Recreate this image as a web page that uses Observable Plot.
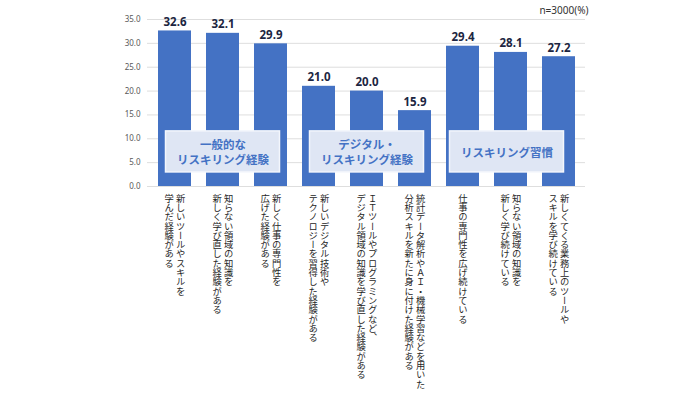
<!DOCTYPE html>
<html><head><meta charset="utf-8">
<script src="https://cdn.jsdelivr.net/npm/d3@7"></script>
<script src="https://cdn.jsdelivr.net/npm/@observablehq/plot@0.6"></script>
<style>body{margin:0;background:#fff;} svg{display:block;}</style>
</head><body><div id="chart"></div>
<script>
const labelLines = [
  ["新しいツールやスキルを", "学んだ経験がある"],
  ["知らない領域の知識を", "新しく学び直した経験がある"],
  ["新しく仕事の専門性を", "広げた経験がある"],
  ["新しいデジタル技術や", "テクノロジーを習得した経験がある"],
  ["ＩＴツールやプログラミングなど、", "デジタル領域の知識を学び直した経験がある"],
  ["統計データ解析やＡＩ・機械学習などを用いた", "分析スキルを新たに身に付けた経験がある"],
  ["仕事の専門性を広げ続けている"],
  ["知らない領域の知識を", "新しく学び続けている"],
  ["新しくてくる業務上のツールや", "スキルを学び続けている"]
];
const categories = labelLines.map(l => l.join(""));
const values = [32.6, 32.1, 29.9, 21.0, 20.0, 15.9, 29.4, 28.1, 27.2];
const groupLabels = ["一般的な\nリスキリング経験", "デジタル・\nリスキリング経験", "リスキリング習慣"];
const groupCenters = [categories[1], categories[4], categories[7]];
const yTicks = [0, 5, 10, 15, 20, 25, 30, 35];
const note = "n=3000(%)";

const bars = categories.map((c, i) => ({cat: c, value: values[i]}));
const lineRows = [];
labelLines.forEach((lines, i) => {
  lines.forEach((t, j) => lineRows.push({cat: categories[i], text: t, off: ((lines.length - 1) / 2 - j) * 11.5}));
});
const offsets = [...new Set(lineRows.map(d => d.off))];
const boxY1 = 2.95, boxY2 = 11.55;
const groups = groupLabels.map((g, i) => ({cat: groupCenters[i], label: g, y1: boxY1, y2: boxY2, y: (boxY1 + boxY2) / 2}));
const groupShift = [0, 0, -4];

const plot = Plot.plot({
  width: 700,
  height: 400,
  marginTop: 19,
  marginBottom: 214,
  marginLeft: 147,
  marginRight: 115,
  style: {background: "#fff", fontFamily: "'Noto Sans CJK JP', 'Noto Sans', sans-serif"},
  x: {domain: categories, paddingInner: 0.32, paddingOuter: 0.16, axis: null},
  y: {domain: [0, 35], axis: null},
  marks: [
    Plot.gridY(yTicks, {stroke: "#dedede", strokeOpacity: 1, strokeWidth: 1}),
    Plot.axisY(yTicks, {tickSize: 0, tickPadding: 7, tickFormat: d => d.toFixed(1), fontSize: 8, fill: "#595959", fontFamily: "'Noto Sans', sans-serif"}),
    Plot.barY(bars, {x: "cat", y: "value", fill: "#4472c4"}),
    Plot.text(bars, {x: "cat", y: "value", text: d => d.value.toFixed(1), lineAnchor: "bottom", dy: -5, fontSize: 11.5, fontWeight: "bold", fill: "#1c2541", fontFamily: "'Noto Sans', sans-serif"}),
    ...groups.map((g, i) => Plot.barY([g], {x: "cat", y1: "y1", y2: "y2", insetLeft: -40.5 + groupShift[i], insetRight: -40.5 - groupShift[i], fill: "#dfe6f4", stroke: "#f3f6fc", strokeWidth: 1.5})),
    ...groups.map((g, i) => Plot.text([g], {x: "cat", y: "y", text: "label", dx: groupShift[i], lineHeight: 1.32, fontSize: 11.5, fontWeight: "bold", fill: "#4472c4"})),
    ...offsets.map(o => Plot.text(lineRows.filter(d => d.off === o), {x: "cat", y: () => 0, text: "text", dx: o, dy: 7, textAnchor: "start", lineAnchor: "bottom", fontSize: 9.3, fill: "#262626"})),
    Plot.text([note], {frameAnchor: "top-right", text: d => d, dx: 3, dy: -9, textAnchor: "end", lineAnchor: "middle", fontSize: 10, fill: "#333", fontFamily: "'Noto Sans', sans-serif"})
  ]
});
plot.querySelectorAll('g[font-size="9.3"]').forEach(g => {
  g.style.writingMode = "vertical-rl";
  g.querySelectorAll("text").forEach(t => { t.style.writingMode = "vertical-rl"; t.removeAttribute("dy"); });
});
document.getElementById("chart").append(plot);
</script>
</body></html>
